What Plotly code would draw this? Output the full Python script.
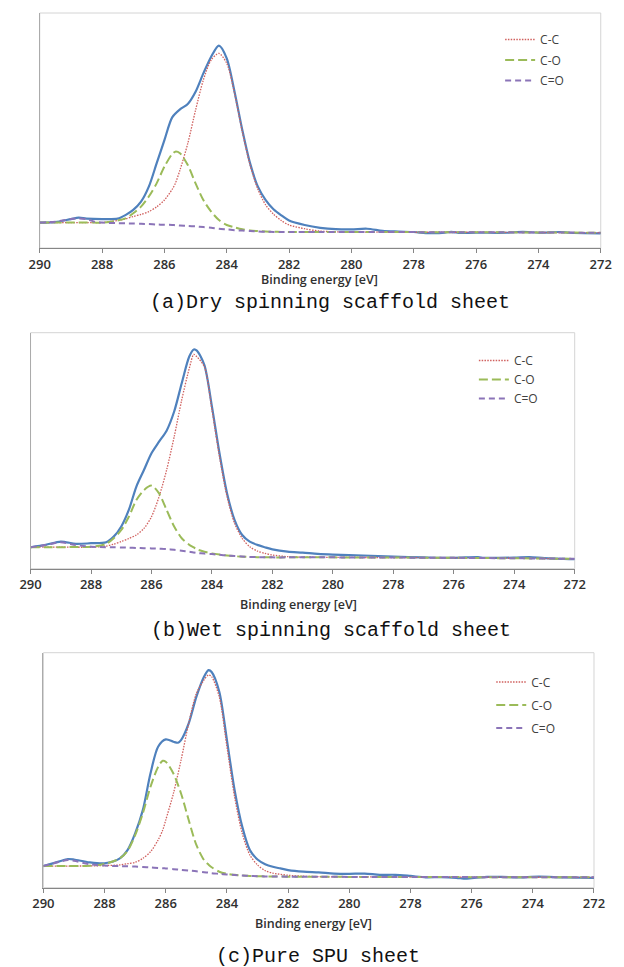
import plotly.graph_objects as go

# ---------------- data (intensity, arbitrary units; axis line = 0, frame top = 100) ----------------
# (a) Dry spinning scaffold sheet
blue_a_E = [290, 289.5, 289, 288.75, 288.5, 288, 287.5, 287.25, 287, 286.75, 286.5, 286.25, 286, 285.75,
            285.5, 285.25, 285, 284.75, 284.5, 284.25, 284, 283.75, 283.5, 283.25, 283, 282.75, 282.5,
            282.25, 282, 281.5, 281, 280.5, 280, 279.5, 279, 278.5, 278, 277.5, 277, 276.8, 276.5, 276,
            275, 274.5, 274, 273.3, 273, 272]
blue_a = [10.8, 11.0, 12.3, 12.9, 12.5, 12.3, 12.5, 14.0, 16.2, 19.7, 26.1, 36.0, 45.9, 55.6,
          59.0, 61.3, 66.5, 74.3, 81.4, 86.1, 80.7, 66.5, 50.2, 36.0, 26.1, 20.4, 16.5,
          13.9, 11.7, 9.8, 8.6, 8.0, 7.9, 8.2, 7.3, 7.0, 6.8, 6.3, 6.5, 6.9, 6.4, 6.5,
          6.5, 6.9, 6.5, 6.8, 6.5, 6.2]
comp_a_E = [290, 289.5, 289, 288.75, 288.5, 288.25, 288, 287.5, 287.25, 287, 286.75, 286.5, 286.25, 286,
            285.75, 285.65, 285.5, 285.25, 285, 284.75, 284.5, 284.25, 284, 283.75, 283.5, 283.25, 283,
            282.75, 282.5, 282.25, 282, 281.5, 281, 280, 276, 272]
cc_a = [10.8, 10.8, 10.8, 10.8, 10.8, 10.8, 10.8, 11.7, 12.4, 13.4, 14.3, 15.5, 17.5, 20.4,
        25.0, 27.5, 33.2, 44.5, 58.7, 71.5, 80.0, 82.8, 78.6, 65.8, 49.5, 35.3, 25.0,
        18.3, 14.4, 11.7, 9.8, 8.2, 7.2, 6.8, 6.7, 6.5]
co_a = [10.8, 10.8, 10.8, 10.8, 10.8, 10.8, 10.8, 11.7, 12.6, 14.8, 17.6, 21.9, 27.5, 34.6,
        40.0, 41.0, 40.3, 35.3, 27.5, 20.4, 15.5, 11.9, 9.8, 8.8, 8.0, 7.5, 7.2,
        7.0, 6.9, 6.85, 6.8, 6.8, 6.8, 6.8, 6.7, 6.5]
cdo_a = [10.8, 11.2, 12.3, 12.6, 12.3, 11.2, 10.8, 10.6, 10.5, 10.4, 10.3, 10.2, 10.0, 9.9,
         9.8, 9.7, 9.6, 9.4, 9.2, 8.9, 8.6, 8.2, 7.9, 7.6, 7.4, 7.2, 7.0,
         6.9, 6.85, 6.8, 6.8, 6.8, 6.8, 6.8, 6.7, 6.5]

# (b) Wet spinning scaffold sheet
blue_b_E = [290, 289.5, 289, 288.5, 288, 287.5, 287.25, 287, 286.75, 286.5, 286.25, 286, 285.75, 285.5,
            285.25, 285, 284.75, 284.6, 284.5, 284.25, 284, 283.75, 283.5, 283.25, 283, 282.75, 282.5,
            282.25, 282, 281.5, 281, 280.5, 280, 279, 278, 277, 276, 275.2, 275, 274, 273.5, 273, 272]
blue_b = [9.1, 10.1, 11.5, 10.5, 10.8, 11.2, 13.6, 17.9, 24.9, 34.8, 41.8, 48.9, 53.8, 58.5,
          66.6, 78.6, 89.9, 92.9, 92.4, 86.3, 68.7, 48.9, 31.9, 20.6, 14.3, 11.5, 10.1,
          9.1, 8.2, 7.2, 6.8, 6.3, 6.0, 5.6, 5.1, 4.8, 4.6, 4.9, 4.6, 4.7, 4.9, 4.5, 4.0]
comp_b_E = [290, 289.5, 289, 288.5, 288, 287.5, 287.25, 287, 286.75, 286.5, 286.25, 286, 285.75, 285.5,
            285.25, 285, 284.75, 284.6, 284.5, 284.25, 284, 283.75, 283.5, 283.25, 283, 282.75, 282.5,
            282.25, 282, 281.5, 281, 280, 276, 272]
cc_b = [9.1, 9.1, 9.1, 9.1, 9.1, 9.6, 10.4, 11.5, 12.8, 14.3, 17.1, 22.0, 30.5, 41.8,
        55.9, 71.5, 84.9, 90.8, 89.8, 85.6, 67.3, 47.5, 30.5, 19.2, 12.9, 9.3, 7.5,
        6.5, 5.8, 5.1, 4.9, 4.8, 4.6, 4.2]
co_b = [9.1, 9.1, 9.1, 9.2, 9.3, 10.5, 12.9, 16.4, 22.0, 29.1, 33.3, 35.2, 31.9, 24.9,
        17.9, 12.9, 10.1, 9.0, 8.2, 7.2, 6.5, 6.0, 5.6, 5.3, 5.1, 5.0, 4.9,
        4.85, 4.8, 4.8, 4.8, 4.8, 4.6, 4.2]
cdo_b = [9.1, 10.0, 11.2, 10.0, 9.3, 9.1, 9.05, 9.0, 8.9, 8.8, 8.7, 8.6, 8.45, 8.3,
         8.0, 7.6, 7.2, 6.9, 6.7, 6.4, 6.2, 5.9, 5.6, 5.4, 5.2, 5.0, 4.9,
         4.85, 4.8, 4.8, 4.8, 4.8, 4.6, 4.2]

# (c) Pure SPU sheet
blue_c_E = [290, 289.5, 289.2, 289, 288.5, 288, 287.5, 287.25, 287, 286.75, 286.5, 286.25, 286, 285.75,
            285.6, 285.5, 285.25, 285, 284.75, 284.6, 284.5, 284.25, 284, 283.75, 283.5, 283.25, 283,
            282.75, 282.5, 282.25, 282, 281.5, 281, 280.5, 280, 279.5, 279, 278.5, 278, 277.5, 277,
            276.5, 276.2, 276, 275.5, 275, 274.5, 273.8, 273, 272]
blue_c = [9.2, 11.1, 12.2, 12.0, 10.8, 10.4, 12.5, 16.0, 23.1, 33.0, 48.6, 60.0, 63.1, 62.1,
          61.7, 62.8, 69.9, 81.2, 89.8, 92.6, 91.8, 83.4, 62.8, 41.6, 26.0, 16.0, 12.0,
          10.0, 8.9, 8.2, 7.5, 6.8, 6.5, 6.0, 5.9, 6.0, 5.5, 5.5, 5.0, 4.4, 4.5,
          4.2, 3.8, 4.1, 4.6, 4.6, 4.4, 4.7, 4.4, 4.2]
comp_c_E = [290, 289.5, 289.2, 289, 288.5, 288, 287.5, 287.25, 287, 286.75, 286.5, 286.25, 286.1, 286,
            285.75, 285.5, 285.25, 285, 284.75, 284.6, 284.5, 284.25, 284, 283.75, 283.5, 283.25, 283,
            282.75, 282.5, 282, 281.5, 281, 280, 276, 272]
cc_c = [9.2, 9.2, 9.2, 9.2, 9.3, 9.4, 9.7, 10.2, 10.8, 12.5, 15.3, 20.3, 24.5, 28.8,
        40.1, 54.3, 69.9, 82.6, 88.4, 90.5, 89.8, 81.2, 60.0, 38.7, 23.1, 13.9, 9.7,
        7.3, 6.2, 5.3, 4.9, 4.7, 4.6, 4.5, 4.4]
co_c = [9.2, 9.2, 9.2, 9.2, 9.3, 10.1, 12.5, 15.7, 22.4, 31.6, 42.9, 51.4, 54.0, 53.6,
        48.6, 40.1, 28.8, 18.2, 11.8, 9.8, 8.7, 6.8, 5.9, 5.5, 5.2, 5.0, 4.9,
        4.8, 4.75, 4.7, 4.7, 4.7, 4.6, 4.5, 4.4]
cdo_c = [9.2, 10.9, 11.8, 11.5, 10.0, 9.4, 9.2, 9.1, 9.0, 8.8, 8.6, 8.4, 8.3, 8.2,
         7.9, 7.6, 7.3, 7.0, 6.6, 6.4, 6.2, 5.9, 5.6, 5.4, 5.2, 5.0, 4.9,
         4.8, 4.75, 4.7, 4.7, 4.7, 4.6, 4.5, 4.4]

series_names = ["C-C", "C-O", "C=O"]
captions = ["(a)Dry spinning scaffold sheet", "(b)Wet spinning scaffold sheet", "(c)Pure SPU sheet"]
x_title = "Binding energy [eV]"
tick_vals = [290, 288, 286, 284, 282, 280, 278, 276, 274, 272]

# ---------------- styling / layout ----------------
W, H = 624, 967
OFF = 8  # page body margin offset of the figure div
BLUE, RED, GREEN, PURPLE = "#4F81BD", "#D0605E", "#9BBB59", "#8B74B8"


def fx(px):
    return (px - OFF) / W


def fy(py):
    return 1 - (py - OFF) / H


panels = [
    dict(blueE=blue_a_E, blue=blue_a, compE=comp_a_E, comps=[cc_a, co_a, cdo_a],
         px=(29.5, 611), py=(248, 13), legend=(506.7, 25.0, 1.5),
         xlab=(319, 280), cap=(330, 303)),
    dict(blueE=blue_b_E, blue=blue_b, compE=comp_b_E, comps=[cc_b, co_b, cdo_b],
         px=(20, 584), py=(568.7, 332.7), legend=(479.5, 346.0, 0.0),
         xlab=(298, 604), cap=(331, 630)),
    dict(blueE=blue_c_E, blue=blue_c, compE=comp_c_E, comps=[cc_c, co_c, cdo_c],
         px=(33.3, 604), py=(887.7, 652.7), legend=(497.5, 667.5, 4.0),
         xlab=(313, 923), cap=(318, 956)),
]

comp_styles = [
    dict(color=RED, width=1.3, dash="1.5px,1.3px"),
    dict(color=GREEN, width=2.0, dash="9px,4px"),
    dict(color=PURPLE, width=2.0, dash="6px,4px"),
]

fig = go.Figure()
layout = dict(width=W, height=H, margin=dict(l=0, r=0, t=0, b=0),
              paper_bgcolor="white", plot_bgcolor="white", showlegend=True)
annotations = []
shapes = []

for i, p in enumerate(panels):
    n = "" if i == 0 else str(i + 1)
    xa, ya = "x" + n, "y" + n
    leg = "legend" + n
    fig.add_trace(go.Scatter(x=p["blueE"], y=p["blue"], mode="lines", xaxis=xa, yaxis=ya,
                             line=dict(color=BLUE, width=2.2, shape="spline", smoothing=0.8),
                             showlegend=False, hoverinfo="skip"))
    for j, (vals, st) in enumerate(zip(p["comps"], comp_styles)):
        fig.add_trace(go.Scatter(x=p["compE"], y=vals, mode="lines", xaxis=xa, yaxis=ya,
                                 name=series_names[j], legend=leg, legendgroup=f"{i}_{j}",
                                 line=dict(color=st["color"], width=st["width"], dash=st["dash"],
                                           shape="spline", smoothing=0.8),
                                 hoverinfo="skip"))
    x0, x1 = fx(p["px"][0]), fx(p["px"][1])
    y0, y1 = fy(p["py"][0]), fy(p["py"][1])
    layout["xaxis" + n] = dict(domain=[x0, x1], range=[290, 272], anchor=ya,
                               tickvals=tick_vals, ticks="outside", ticklen=4, tickcolor="#868686",
                               showline=True, linecolor="#868686", linewidth=1,
                               showgrid=False, zeroline=False,
                               tickfont=dict(family="Open Sans", size=13, color="#303030", weight=600))
    layout["yaxis" + n] = dict(domain=[y0, y1], range=[0, 100], anchor=xa,
                               showline=True, linecolor="#ABABAB", linewidth=1,
                               showticklabels=False, ticks="", showgrid=False, zeroline=False)
    lx, ly, gap = p["legend"]
    layout[leg] = dict(x=fx(lx), y=fy(ly), xanchor="left", yanchor="top",
                       bgcolor="rgba(0,0,0,0)", tracegroupgap=gap, traceorder="grouped",
                       font=dict(family="Open Sans", size=12, color="#404040"))
    shapes.append(dict(type="rect", xref=xa + " domain", yref=ya + " domain",
                       x0=0, x1=1, y0=0, y1=1, line=dict(color="#D4D4D4", width=1), layer="below"))
    annotations.append(dict(text=x_title, xref="paper", yref="paper",
                            x=fx(p["xlab"][0]), y=fy(p["xlab"][1]),
                            xanchor="center", yanchor="middle", showarrow=False,
                            font=dict(family="Open Sans", size=12.5, color="#303030", weight=600)))
    annotations.append(dict(text=captions[i], xref="paper", yref="paper",
                            x=fx(p["cap"][0]), y=fy(p["cap"][1]),
                            xanchor="center", yanchor="middle", showarrow=False,
                            font=dict(family="Liberation Mono", size=20, color="#111111")))

layout["annotations"] = annotations
layout["shapes"] = shapes
fig.update_layout(**layout)
fig.write_html("out.html")
